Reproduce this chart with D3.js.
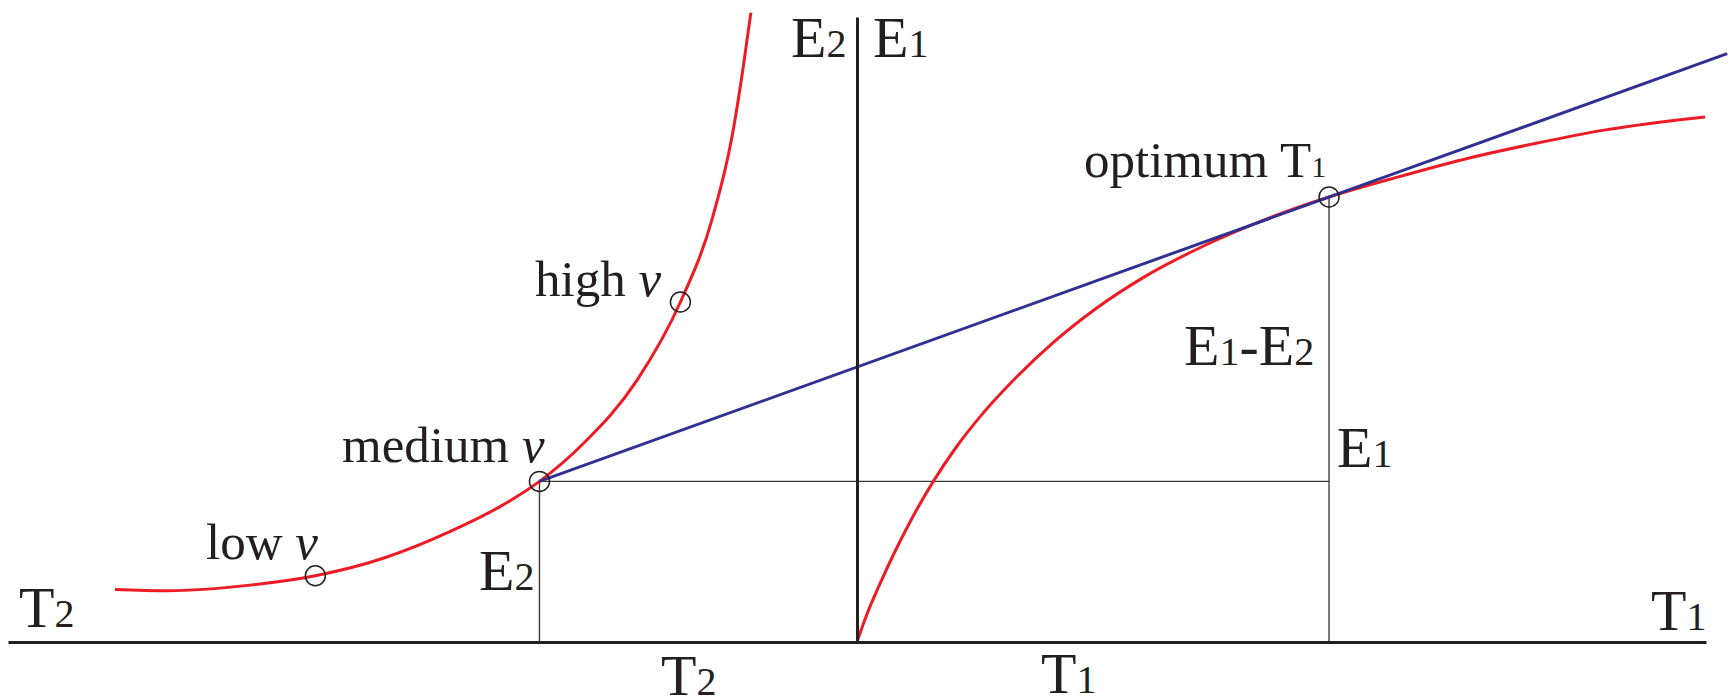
<!DOCTYPE html>
<html>
<head>
<meta charset="utf-8">
<script src="https://cdn.jsdelivr.net/npm/d3@7/dist/d3.min.js"></script>
<style>
  html, body { margin: 0; padding: 0; background: #fff; }
  svg { display: block; }
  text { font-family: "Liberation Serif", "Times New Roman", serif; fill: #231f20; }
</style>
</head>
<body>
<svg id="chart" width="1732" height="700"></svg>
<script>
// Right branch: energy E1 gathered against time T1 spent in a patch
const t1Values = [0, 0.11, 0.27, 0.43, 0.64, 0.89, 1.17, 1.49, 1.88, 2.31, 2.80, 3.37, 4.12, 4.79, 5.56, 6.40, 7.20, 8.00, 8.80, 9.99];
const e1Values = [0, 0.42, 0.93, 1.40, 1.96, 2.55, 3.12, 3.67, 4.24, 4.79, 5.32, 5.83, 6.36, 6.75, 7.12, 7.45, 7.74, 7.98, 8.19, 8.40];

// Left branch: energy E2 spent against travel time T2 (drawn leftwards)
const t2Values = [8.74, 8.13, 7.15, 6.38, 5.58, 4.79, 4.20, 3.74, 3.22, 2.59, 2.08, 1.71, 1.47, 1.34, 1.25];
const e2Values = [0.84, 0.82, 0.91, 1.06, 1.34, 1.77, 2.17, 2.57, 3.18, 4.19, 5.44, 6.75, 8.10, 9.20, 10.07];

// Marked speeds on the travel curve
const speedNames = ["low", "medium", "high"];
const speedT2 = [6.38, 3.74, 2.08];
const speedE2 = [1.06, 2.57, 5.44];

// Optimum residence time on the gain curve
const optimumT1 = 5.56;
const optimumE1 = 7.12;

// Far end of the tangent line
const tangentEndT1 = 10.25;

const svg = d3.select("#chart");
const x = d3.scaleLinear().domain([-10, 10]).range([8, 1706]);
const y = d3.scaleLinear().domain([0, 10]).range([642, 17]);

const ink = "#231f20";
const red = "#ed1c24";
const blue = "#2e3192";

const medium = { t: -speedT2[1], e: speedE2[1] };
const optimum = { t: optimumT1, e: optimumE1 };

// Thin guide lines: E2 drop, E1 drop and the shared horizontal level
const guides = svg.append("g").attr("stroke", "#3a3a3a").attr("stroke-width", 1.4).attr("fill", "none");
guides.append("line")
  .attr("x1", x(medium.t)).attr("x2", x(medium.t))
  .attr("y1", y(medium.e)).attr("y2", y(0));
guides.append("line")
  .attr("x1", x(medium.t)).attr("x2", x(optimum.t))
  .attr("y1", y(medium.e)).attr("y2", y(medium.e));
guides.append("line")
  .attr("x1", x(optimum.t)).attr("x2", x(optimum.t))
  .attr("y1", y(optimum.e)).attr("y2", y(0));

// Curves (both are functions of the horizontal position)
const line = d3.line().x(d => x(d[0])).y(d => y(d[1])).curve(d3.curveMonotoneX);
const gain = t1Values.map((t, i) => [t, e1Values[i]]);
const travel = t2Values.map((t, i) => [-t, e2Values[i]]);

svg.append("path").datum(travel).attr("d", line)
  .attr("fill", "none").attr("stroke", red).attr("stroke-width", 3);
svg.append("path").datum(gain).attr("d", line)
  .attr("fill", "none").attr("stroke", red).attr("stroke-width", 3);

// Tangent from the medium-speed point through the optimum
const slope = (optimum.e - medium.e) / (optimum.t - medium.t);
const tangent = [[medium.t, medium.e], [tangentEndT1, medium.e + slope * (tangentEndT1 - medium.t)]];
svg.append("path").datum(tangent)
  .attr("d", d3.line().x(d => x(d[0])).y(d => y(d[1])))
  .attr("fill", "none").attr("stroke", blue).attr("stroke-width", 3);

// Axes: a horizontal time axis and a vertical energy axis, no ticks
svg.append("g")
  .attr("transform", `translate(0,${y(0)})`)
  .call(d3.axisBottom(x).tickValues([]).tickSizeOuter(0))
  .call(g => g.select(".domain").attr("stroke", ink).attr("stroke-width", 3));
svg.append("g")
  .attr("transform", `translate(${x(0)},0)`)
  .call(d3.axisLeft(y).tickValues([]).tickSizeOuter(0))
  .call(g => g.select(".domain").attr("stroke", ink).attr("stroke-width", 3));

// Point markers
const markers = speedT2.map((t, i) => [-t, speedE2[i]]).concat([[optimum.t, optimum.e]]);
svg.append("g").selectAll("circle").data(markers).join("circle")
  .attr("cx", d => x(d[0])).attr("cy", d => y(d[1])).attr("r", 10)
  .attr("fill", "none").attr("stroke", ink).attr("stroke-width", 1.5);

// Text labels: [parts], left x, baseline y; each part is [text, size, italic]
const big = 58, sub = 40;
const labels = [
  { parts: [["E", big], ["2", sub]], x: 791, y: 57 },
  { parts: [["E", big], ["1", sub]], x: 873, y: 57 },
  { parts: [["T", big], ["2", sub]], x: 19, y: 627 },
  { parts: [["T", big], ["1", sub]], x: 1651, y: 630 },
  { parts: [["T", big], ["2", sub]], x: 661, y: 695 },
  { parts: [["T", big], ["1", sub]], x: 1041, y: 693 },
  { parts: [["E", big], ["2", sub]], x: 479, y: 590 },
  { parts: [["E", big], ["1", sub]], x: 1337, y: 467 },
  { parts: [["E", big], ["1", sub], ["-", big], ["E", big], ["2", sub]], x: 1184, y: 365 },
  { parts: [["optimum T", 51], ["1", 30]], x: 1084, y: 177 },
  { parts: [["high ", 51], ["v", 51, true]], x: 535, y: 296 },
  { parts: [["medium ", 51], ["v", 51, true]], x: 342, y: 462 },
  { parts: [["low ", 51], ["v", 51, true]], x: 206, y: 559 }
];

const textG = svg.append("g");
labels.forEach(l => {
  const t = textG.append("text").attr("x", l.x).attr("y", l.y).attr("xml:space", "preserve");
  l.parts.forEach(p => {
    t.append("tspan")
      .attr("font-size", p[1])
      .attr("font-style", p[2] ? "italic" : null)
      .text(p[0]);
  });
});
</script>
</body>
</html>
